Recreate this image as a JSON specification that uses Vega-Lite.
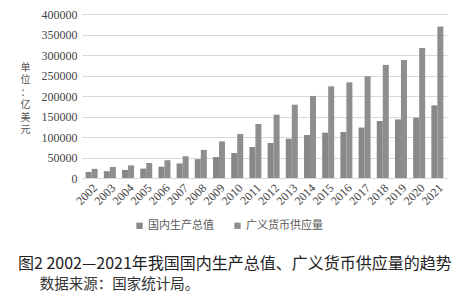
{
  "$schema": "https://vega.github.io/schema/vega-lite/v6.json",
  "width": 365,
  "height": 164,
  "autosize": {"type": "none"},
  "padding": {"left": 82, "top": 14, "right": 24, "bottom": 124},
  "background": "white",
  "config": {"view": {"stroke": null}, "font": "Noto Sans CJK SC"},
  "title": {
    "text": "图2 2002—2021年我国国内生产总值、广义货币供应量的趋势",
    "subtitle": "\u200b\u3000\u2002数据来源：国家统计局。",
    "orient": "bottom",
    "anchor": "start",
    "frame": "group",
    "dx": -64,
    "offset": 25,
    "font": "Noto Sans CJK SC",
    "fontSize": 16,
    "fontWeight": "normal",
    "color": "#222222",
    "subtitleFont": "Noto Sans CJK SC",
    "subtitleFontSize": 14.5,
    "subtitleColor": "#333333",
    "subtitlePadding": 6
  },
  "data": {
    "values": [
      {"year": "2002", "series": "国内生产总值", "value": 14700},
      {"year": "2003", "series": "国内生产总值", "value": 16600},
      {"year": "2004", "series": "国内生产总值", "value": 19600},
      {"year": "2005", "series": "国内生产总值", "value": 22900},
      {"year": "2006", "series": "国内生产总值", "value": 27500},
      {"year": "2007", "series": "国内生产总值", "value": 35500},
      {"year": "2008", "series": "国内生产总值", "value": 46000},
      {"year": "2009", "series": "国内生产总值", "value": 51000},
      {"year": "2010", "series": "国内生产总值", "value": 60900},
      {"year": "2011", "series": "国内生产总值", "value": 75500},
      {"year": "2012", "series": "国内生产总值", "value": 85300},
      {"year": "2013", "series": "国内生产总值", "value": 95700},
      {"year": "2014", "series": "国内生产总值", "value": 104800},
      {"year": "2015", "series": "国内生产总值", "value": 110600},
      {"year": "2016", "series": "国内生产总值", "value": 112300},
      {"year": "2017", "series": "国内生产总值", "value": 123100},
      {"year": "2018", "series": "国内生产总值", "value": 138900},
      {"year": "2019", "series": "国内生产总值", "value": 142800},
      {"year": "2020", "series": "国内生产总值", "value": 147200},
      {"year": "2021", "series": "国内生产总值", "value": 177300},
      {"year": "2002", "series": "广义货币供应量", "value": 22300},
      {"year": "2003", "series": "广义货币供应量", "value": 26700},
      {"year": "2004", "series": "广义货币供应量", "value": 30700},
      {"year": "2005", "series": "广义货币供应量", "value": 36500},
      {"year": "2006", "series": "广义货币供应量", "value": 43400},
      {"year": "2007", "series": "广义货币供应量", "value": 53100},
      {"year": "2008", "series": "广义货币供应量", "value": 68400},
      {"year": "2009", "series": "广义货币供应量", "value": 89300},
      {"year": "2010", "series": "广义货币供应量", "value": 107200},
      {"year": "2011", "series": "广义货币供应量", "value": 131800},
      {"year": "2012", "series": "广义货币供应量", "value": 154400},
      {"year": "2013", "series": "广义货币供应量", "value": 178800},
      {"year": "2014", "series": "广义货币供应量", "value": 200100},
      {"year": "2015", "series": "广义货币供应量", "value": 223500},
      {"year": "2016", "series": "广义货币供应量", "value": 233400},
      {"year": "2017", "series": "广义货币供应量", "value": 248400},
      {"year": "2018", "series": "广义货币供应量", "value": 275900},
      {"year": "2019", "series": "广义货币供应量", "value": 287900},
      {"year": "2020", "series": "广义货币供应量", "value": 316900},
      {"year": "2021", "series": "广义货币供应量", "value": 369400}
    ]
  },
  "mark": {"type": "bar"},
  "encoding": {
    "x": {
      "field": "year",
      "type": "ordinal",
      "scale": {"paddingInner": 0.34, "paddingOuter": 0.2},
      "axis": {
        "title": null,
        "labelAngle": -45,
        "labelFont": "Liberation Serif",
        "labelFontSize": 12,
        "labelColor": "#444444",
        "labelPadding": 4,
        "ticks": false,
        "domain": true,
        "domainColor": "#d9d9d9"
      }
    },
    "xOffset": {"field": "series", "type": "nominal", "sort": ["国内生产总值", "广义货币供应量"]},
    "y": {
      "field": "value",
      "type": "quantitative",
      "scale": {"domain": [0, 400000]},
      "axis": {
        "values": [0, 50000, 100000, 150000, 200000, 250000, 300000, 350000, 400000],
        "format": "d",
        "labelFont": "Liberation Serif",
        "labelFontSize": 12,
        "labelColor": "#444444",
        "labelPadding": 5,
        "ticks": false,
        "domain": false,
        "gridColor": "#d9d9d9",
        "title": ["单", "位", "：", "亿", "美", "元"],
        "titleAngle": 0,
        "titleFont": "Noto Sans CJK SC",
        "titleFontSize": 10,
        "titleFontWeight": "normal",
        "titleColor": "#555555",
        "titleAlign": "center",
        "titleBaseline": "top",
        "titleLineHeight": 12.5,
        "titleX": -57,
        "titleY": 48
      }
    },
    "color": {
      "field": "series",
      "type": "nominal",
      "sort": ["国内生产总值", "广义货币供应量"],
      "scale": {"range": ["#888888", "#8e8e8e"]},
      "legend": {
        "title": null,
        "orient": "none",
        "direction": "horizontal",
        "legendX": 52,
        "legendY": 206,
        "symbolType": "square",
        "symbolSize": 40,
        "labelFontSize": 11,
        "labelColor": "#595959",
        "labelOffset": 3,
        "columnPadding": 18
      }
    }
  }
}
